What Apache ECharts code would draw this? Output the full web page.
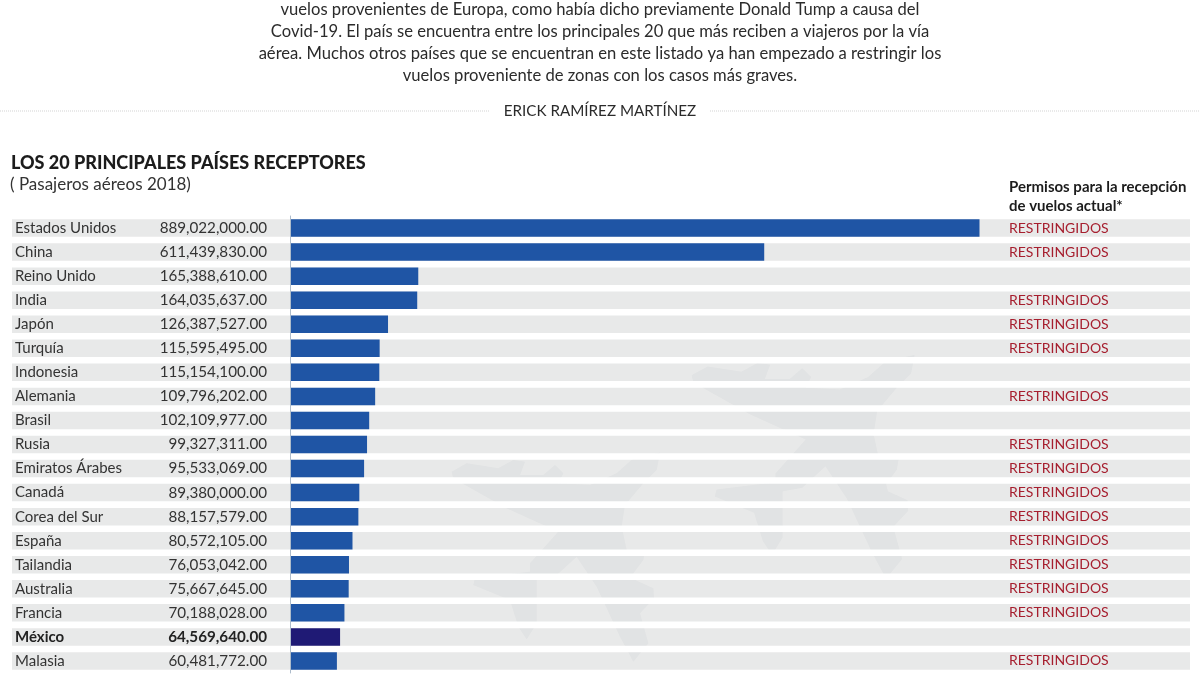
<!DOCTYPE html>
<html>
<head>
<meta charset="utf-8">
<style>
  html, body { margin: 0; padding: 0; background: #fff; }
  #chart { width: 1200px; height: 675px; }
</style>
<script src="https://cdn.jsdelivr.net/npm/echarts@6/dist/echarts.min.js"></script>
</head>
<body>
<div id="chart"></div>
<script>
const paises = ['Estados Unidos', 'China', 'Reino Unido', 'India', 'Japón', 'Turquía', 'Indonesia', 'Alemania', 'Brasil', 'Rusia', 'Emiratos Árabes', 'Canadá', 'Corea del Sur', 'España', 'Tailandia', 'Australia', 'Francia', 'México', 'Malasia']
const pasajeros = [889022000, 611439830, 165388610, 164035637, 126387527, 115595495, 115154100, 109796202, 102109977, 99327311, 95533069, 89380000, 88157579, 80572105, 76053042, 75667645, 70188028, 64569640, 60481772]
const permisos = ['RESTRINGIDOS', 'RESTRINGIDOS', '', 'RESTRINGIDOS', 'RESTRINGIDOS', 'RESTRINGIDOS', '', 'RESTRINGIDOS', '', 'RESTRINGIDOS', 'RESTRINGIDOS', 'RESTRINGIDOS', 'RESTRINGIDOS', 'RESTRINGIDOS', 'RESTRINGIDOS', 'RESTRINGIDOS', 'RESTRINGIDOS', '', 'RESTRINGIDOS']
const intro = [
  'vuelos provenientes de Europa, como había dicho previamente Donald Tump a causa del',
  'Covid-19. El país se encuentra entre los principales 20 que más reciben a viajeros por la vía',
  'aérea. Muchos otros países que se encuentran en este listado ya han empezado a restringir los',
  'vuelos proveniente de zonas con los casos más graves.'
]

const FONT = 'Lato, "Open Sans", sans-serif'
const DESTACADO = 'México'
const PASAJEROS_POR_PX = 889022000 / 689.5

// silueta del avión de fondo
const avion = [[690,308],[680,360],[640,400],[585,465],[575,530],[590,600],[645,600],[640,630],[610,670],[615,690],[670,715],[672,745],[630,790],[655,880],[610,935],[570,860],[500,710],[440,620],[375,680],[320,690],[320,820],[290,868],[265,830],[240,750],[130,705],[135,685],[300,665],[300,640],[385,545],[230,475],[70,385],[65,365],[110,340],[205,355],[250,330],[285,335],[270,375],[340,375],[375,345],[400,370],[385,400],[480,405],[560,370],[610,325]]
const avionIzq = avion.map(p => [430 + p[0] / 3, 350 + p[1] / 3])
const avionDer = avion.map(p => [430 + (785 + (p[0] - 65) * 1.07) / 3, 350 + (15 + (p[1] - 308) * 1.07) / 3])

const fmt = v => v.toLocaleString('en-US', { minimumFractionDigits: 2 })

const myChart = echarts.init(document.getElementById('chart'))

const introText = intro.map((line, i) => ({
  type: 'text', x: 600, y: 9.5 + i * 22,
  style: { text: line, fill: '#2b2b2b', font: '16.6px ' + FONT, align: 'center', verticalAlign: 'middle' }
}))

const option = {
  animation: false,
  backgroundColor: '#fff',
  title: [
    { text: 'LOS 20 PRINCIPALES PAÍSES RECEPTORES', left: 6, top: 149, textStyle: { fontFamily: FONT, fontSize: 18, fontWeight: 900, color: '#1c1c1c' } },
    { text: '( Pasajeros aéreos 2018)', left: 5, top: 171, textStyle: { fontFamily: FONT, fontSize: 17, fontWeight: 400, color: '#333' } }
  ],
  graphic: [
    ...introText,
    { type: 'line', shape: { x1: 0, y1: 111, x2: 490, y2: 111 }, style: { stroke: '#d4d4d4', lineWidth: 1, lineDash: [1, 1] } },
    { type: 'line', shape: { x1: 710, y1: 111, x2: 1200, y2: 111 }, style: { stroke: '#d4d4d4', lineWidth: 1, lineDash: [1, 1] } },
    { type: 'text', x: 600, y: 111, style: { text: 'ERICK RAMÍREZ MARTÍNEZ', fill: '#2b2b2b', font: '15.2px ' + FONT, align: 'center', verticalAlign: 'middle' } },
    { type: 'text', x: 1009, y: 187, style: { text: 'Permisos para la recepción', fill: '#1c1c1c', font: 'bold 15px ' + FONT, verticalAlign: 'middle' } },
    { type: 'text', x: 1009, y: 206, style: { text: 'de vuelos actual*', fill: '#1c1c1c', font: 'bold 15px ' + FONT, verticalAlign: 'middle' } }
  ],
  grid: { left: 12, right: 10, top: 216, height: 457, outerBoundsMode: 'none' },
  xAxis: {
    type: 'value',
    show: false,
    min: -278 * PASAJEROS_POR_PX,
    max: 900 * PASAJEROS_POR_PX
  },
  yAxis: {
    type: 'category',
    inverse: true,
    z: 5,
    data: paises,
    axisLine: { onZero: true, lineStyle: { color: '#aebccb', width: 1 } },
    axisTick: { show: false },
    axisLabel: {
      margin: -3,
      align: 'left',
      color: '#333',
      fontFamily: FONT,
      fontSize: 15,
      formatter: v => v === DESTACADO ? '{b|' + v + '}' : v,
      rich: { b: { fontWeight: 'bold', fontFamily: FONT, fontSize: 15, color: '#222' } }
    }
  },
  series: [
    {
      type: 'bar',
      barWidth: 17.5,
      showBackground: true,
      backgroundStyle: { color: '#e8e9e9' },
      data: pasajeros.map((v, i) => ({
        value: v,
        itemStyle: { color: paises[i] === DESTACADO ? '#1f1a75' : '#1f55a5' }
      }))
    },
    {
      // aviones de fondo, recortados a cada franja
      type: 'custom',
      z: 3,
      silent: true,
      data: paises.map((p, i) => [0, i]),
      encode: { x: 0, y: 1 },
      renderItem: (params, api) => {
        const y = api.coord([0, api.value(1)])[1]
        const franja = { type: 'rect', shape: { x: 0, y: y - 8.75, width: 1200, height: 17.5 } }
        const estilo = { fill: 'rgba(100,110,130,0.05)' }
        return {
          type: 'group',
          children: [
            { type: 'polygon', shape: { points: avionIzq }, style: estilo, clipPath: franja },
            { type: 'polygon', shape: { points: avionDer }, style: estilo, clipPath: franja }
          ]
        }
      }
    },
    {
      // cifras a la izquierda del eje
      type: 'custom',
      z: 4,
      silent: true,
      data: pasajeros.map((v, i) => [0, i, v]),
      encode: { x: 0, y: 1 },
      renderItem: (params, api) => {
        const i = api.value(1)
        const pt = api.coord([0, i])
        const bold = paises[i] === DESTACADO
        return {
          type: 'text',
          x: pt[0] - 23,
          y: pt[1],
          style: { text: fmt(api.value(2)), fill: bold ? '#222' : '#333', font: (bold ? 'bold ' : '') + '15.2px ' + FONT, align: 'right', verticalAlign: 'middle' }
        }
      }
    },
    {
      // columna de permisos
      type: 'custom',
      z: 4,
      silent: true,
      data: paises.map((p, i) => [0, i]),
      encode: { x: 0, y: 1 },
      renderItem: (params, api) => {
        const i = api.value(1)
        const pt = api.coord([0, i])
        return {
          type: 'text',
          x: 1009,
          y: pt[1],
          style: { text: permisos[i], fill: '#a61e2e', font: '14px ' + FONT, verticalAlign: 'middle' }
        }
      }
    }
  ]
}

myChart.setOption(option)
</script>
</body>
</html>
